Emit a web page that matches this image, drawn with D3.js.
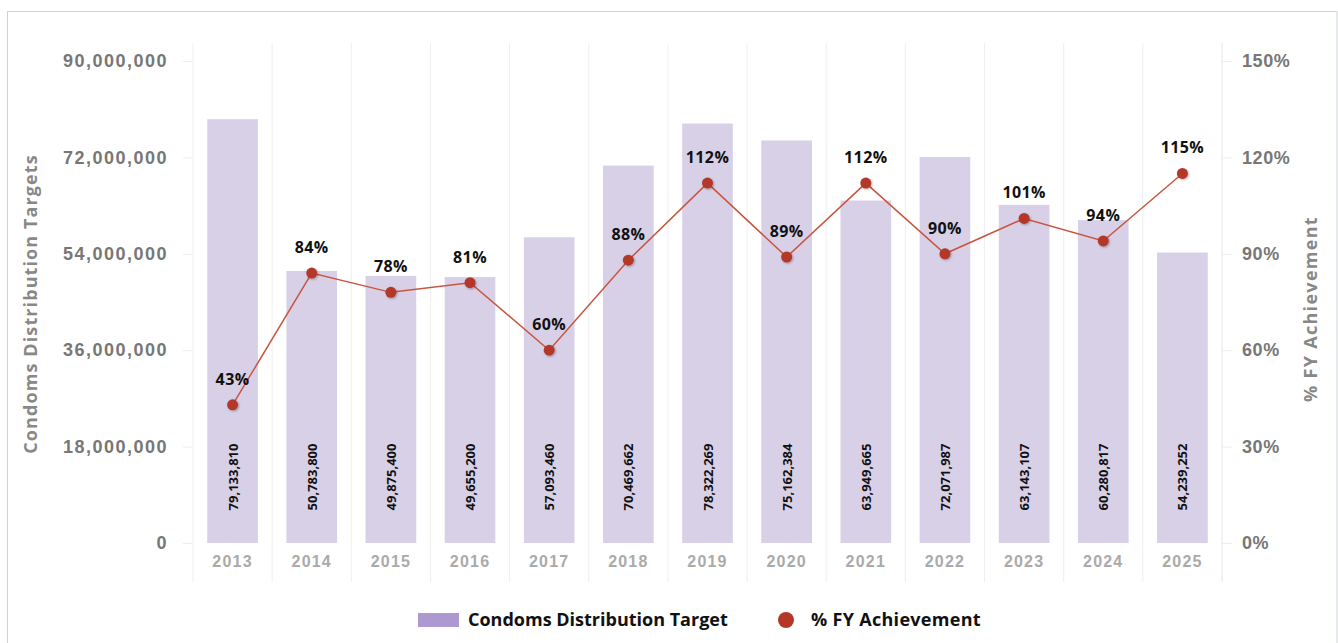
<!DOCTYPE html>
<html>
<head>
<meta charset="utf-8">
<script src="https://cdn.jsdelivr.net/npm/d3@7"></script>
<style>
  html, body { margin: 0; padding: 0; background: #fff; }
  svg { display: block; font-family: "Open Sans", "Noto Sans", sans-serif; }
</style>
</head>
<body>
<svg id="chart" width="1338" height="643"></svg>
<script>
// Fiscal years shown on the x axis
const years = ["2013", "2014", "2015", "2016", "2017", "2018", "2019", "2020", "2021", "2022", "2023", "2024", "2025"];
// Annual condom distribution targets (bars)
const targets = [79133810, 50783800, 49875400, 49655200, 57093460, 70469662, 78322269, 75162384, 63949665, 72071987, 63143107, 60280817, 54239252];
// Percentage of the fiscal-year target achieved (line)
const achievement = [43, 84, 78, 81, 60, 88, 112, 89, 112, 90, 101, 94, 115];
// Axis tick values
const leftTicks = [0, 18000000, 36000000, 54000000, 72000000, 90000000];
const rightTicks = [0, 30, 60, 90, 120, 150];

const svg = d3.select("#chart");
const W = 1338, H = 643;

const plot = { left: 193, right: 1222, top: 61, bottom: 543 };

// outer frame
svg.append("rect")
  .attr("x", 7.5).attr("y", 11.5)
  .attr("width", W - 8.5).attr("height", H)
  .attr("fill", "none").attr("stroke", "#cfd3d8").attr("stroke-width", 1);

const x = d3.scaleBand().domain(years).range([plot.left, plot.right]).paddingInner(0.36).paddingOuter(0.18);
const yL = d3.scaleLinear().domain([0, 90000000]).range([plot.bottom, plot.top]);
const yR = d3.scaleLinear().domain([0, 150]).range([plot.bottom, plot.top]);

// vertical separators between categories
const step = x.step();
const bandEdges = years.map(y => x(y) - x.paddingInner() * step / 2);
bandEdges.push(x(years[years.length - 1]) + x.bandwidth() + x.paddingInner() * step / 2);
svg.append("g").selectAll("line").data(bandEdges).join("line")
  .attr("x1", d => d).attr("x2", d => d)
  .attr("y1", 43).attr("y2", 582)
  .attr("stroke", "#efefef").attr("stroke-width", 1);

// left axis
const axL = svg.append("g").attr("transform", `translate(${plot.left},0)`)
  .call(d3.axisLeft(yL).tickValues(leftTicks).tickFormat(d3.format(",")).tickSize(10).tickPadding(15));
axL.select(".domain").remove();
axL.selectAll(".tick line").attr("stroke", "#eeeeee");
axL.selectAll(".tick text").attr("fill", "#777").attr("font-size", 18).attr("font-weight", 700)
  .attr("letter-spacing", "1.5px");

// right axis
const axR = svg.append("g").attr("transform", `translate(${plot.right},0)`)
  .call(d3.axisRight(yR).tickValues(rightTicks).tickFormat(d => d + "%").tickSize(10).tickPadding(10));
axR.select(".domain").attr("stroke", "#eeeeee").attr("d", `M0,43V582`);
axR.selectAll(".tick line").attr("stroke", "#eeeeee");
axR.selectAll(".tick text").attr("fill", "#777").attr("font-size", 18).attr("font-weight", 700)
  .attr("letter-spacing", "0.6px");

// bottom axis labels
const axB = svg.append("g").attr("transform", `translate(0,${plot.bottom})`)
  .call(d3.axisBottom(x).tickSize(0).tickPadding(13));
axB.select(".domain").remove();
axB.selectAll(".tick text").attr("fill", "#aaa").attr("font-size", 16).attr("font-weight", 700)
  .attr("letter-spacing", "1.2px");

// bars
svg.append("g").selectAll("rect").data(years).join("rect")
  .attr("x", d => x(d))
  .attr("width", x.bandwidth())
  .attr("y", (d, i) => yL(targets[i]))
  .attr("height", (d, i) => plot.bottom - yL(targets[i]))
  .attr("fill", "#d8d0e7");

// bar value labels, rotated
svg.append("g").selectAll("text").data(years).join("text")
  .attr("transform", d => `translate(${x(d) + x.bandwidth() / 2 + 5},477) rotate(-90)`)
  .attr("text-anchor", "middle")
  .attr("font-size", 13).attr("font-weight", 700).attr("fill", "#111")
  .text((d, i) => d3.format(",")(targets[i]));

// achievement line
const cx = d => x(d) + x.bandwidth() / 2;
const line = d3.line().x((d, i) => cx(years[i])).y(d => yR(d));
svg.append("path").datum(achievement)
  .attr("d", line).attr("fill", "none")
  .attr("stroke", "#c8553f").attr("stroke-width", 1.5);

const defs = svg.append("defs");
const f = defs.append("filter").attr("id", "dotShadow").attr("x", "-50%").attr("y", "-50%").attr("width", "200%").attr("height", "200%");
f.append("feDropShadow").attr("dx", 1).attr("dy", 1).attr("stdDeviation", 1).attr("flood-color", "#000").attr("flood-opacity", 0.3);

svg.append("g").selectAll("circle").data(achievement).join("circle")
  .attr("cx", (d, i) => cx(years[i])).attr("cy", d => yR(d))
  .attr("r", 5.5).attr("fill", "#b3382a").attr("filter", "url(#dotShadow)");

svg.append("g").selectAll("text").data(achievement).join("text")
  .attr("x", (d, i) => cx(years[i])).attr("y", d => yR(d) - 20)
  .attr("text-anchor", "middle")
  .attr("font-size", 16).attr("font-weight", 700).attr("fill", "#111")
  .attr("letter-spacing", "0.4px")
  .text(d => d + "%");

// axis titles
svg.append("text")
  .attr("transform", "translate(37,304) rotate(-90)")
  .attr("text-anchor", "middle")
  .attr("font-size", 18).attr("font-weight", 700).attr("fill", "#888")
  .attr("letter-spacing", "1.1px")
  .text("Condoms Distribution Targets");
svg.append("text")
  .attr("transform", "translate(1317,309) rotate(-90)")
  .attr("text-anchor", "middle")
  .attr("font-size", 18).attr("font-weight", 700).attr("fill", "#888")
  .attr("letter-spacing", "1.3px")
  .text("% FY Achievement");

// legend
const lg = svg.append("g");
lg.append("rect").attr("x", 418).attr("y", 613).attr("width", 41).attr("height", 14).attr("fill", "#ad98cf");
lg.append("text").attr("x", 468).attr("y", 626).attr("font-size", 18).attr("font-weight", 700).attr("fill", "#111")
  .text("Condoms Distribution Target");
lg.append("circle").attr("cx", 786).attr("cy", 620).attr("r", 8).attr("fill", "#b3382a");
lg.append("text").attr("x", 811).attr("y", 626).attr("font-size", 18).attr("font-weight", 700).attr("fill", "#111")
  .attr("letter-spacing", "0.3px")
  .text("% FY Achievement");
</script>
</body>
</html>
